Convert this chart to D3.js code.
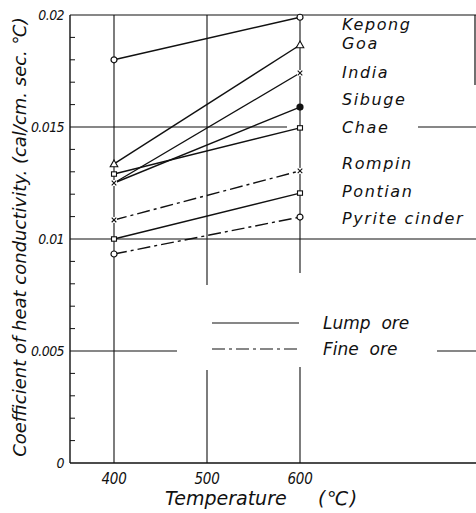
<!DOCTYPE html>
<html><head><meta charset="utf-8">
<script src="https://cdn.jsdelivr.net/npm/d3@7"></script>
<style>
body{margin:0;background:#fff;}
text{font-family:"DejaVu Sans",sans-serif;font-style:italic;fill:#111;}
text.cond{font-family:"DejaVu Sans Condensed","Liberation Sans Narrow","DejaVu Sans",sans-serif;}
</style></head><body>
<svg id="c" width="476" height="513"></svg>
<script>
// ---- data ----
const temps = [400, 600];
const seriesNames = ["Kepong","Goa","India","Sibuge","Chae","Rompin","Pontian","Pyrite cinder"];
const kepong = [0.0180, 0.0199];
const goa = [0.01335, 0.01866];
const india = [0.0125, 0.01741];
const sibuge = [0.0125, 0.01589];
const chae = [0.0129, 0.01496];
const rompin = [0.01085, 0.01304];
const pontian = [0.0100, 0.01205];
const pyrite = [0.00933, 0.01098];
const oreType = ["lump","lump","lump","lump","lump","fine","lump","fine"];
const markerTypes = [
  ["circle","circle"], ["triangle","triangle"], ["cross","cross"], ["cross","dot"],
  ["square","square"], ["cross","cross"], ["square","square"], ["circle","circle"]
];
const xTicks = [400, 500, 600];
const yTicks = [0, 0.005, 0.01, 0.015, 0.02];
const yTickLabels = ["0", "0.005", "0.01", "0.015", "0.02"];
const legendLabels = ["Lump ore", "Fine ore"];
const legendTypes = ["lump", "fine"];

const values = [kepong, goa, india, sibuge, chae, rompin, pontian, pyrite];

const svg = d3.select("#c");
const L = 70, R = 476, T = 15, B = 463;
const x = d3.scaleLinear().domain([400, 600]).range([114, 300]);
const y = d3.scaleLinear().domain([0, 0.02]).range([B, T]);
const dashFine = "13,4,3,4";
const ink = "#111";

// frame
svg.append("line").attr("x1", L).attr("x2", R).attr("y1", B).attr("y2", B).attr("stroke", ink).attr("stroke-width", 1.4);
svg.append("line").attr("x1", L).attr("x2", L).attr("y1", T).attr("y2", B).attr("stroke", ink).attr("stroke-width", 1.4);
svg.append("line").attr("x1", L).attr("x2", R).attr("y1", T).attr("y2", T).attr("stroke", ink).attr("stroke-width", 1.2);
svg.append("line").attr("x1", R - 1).attr("x2", R - 1).attr("y1", T).attr("y2", 85).attr("stroke", ink).attr("stroke-width", 1.2);

// horizontal grid lines (with gaps for labels / legend)
const hGrid = [
  {v: 0.015, segs: [[L, 287], [418, R]]},
  {v: 0.01, segs: [[L, R]]},
  {v: 0.005, segs: [[L, 177], [437, R]]}
];
hGrid.forEach(g => g.segs.forEach(s => {
  svg.append("line").attr("x1", s[0]).attr("x2", s[1]).attr("y1", y(g.v)).attr("y2", y(g.v))
    .attr("stroke", ink).attr("stroke-width", 1.1);
}));
// vertical grid lines
const vGrid = [
  {t: 400, segs: [[T, B]]},
  {t: 500, segs: [[T, 285], [370, B]]},
  {t: 600, segs: [[T, 273], [367, B]]}
];
vGrid.forEach(g => g.segs.forEach(s => {
  svg.append("line").attr("x1", x(g.t)).attr("x2", x(g.t)).attr("y1", s[0]).attr("y2", s[1])
    .attr("stroke", ink).attr("stroke-width", 1.1);
}));

// minor y ticks
d3.range(1, 20).forEach(i => {
  if (i % 5 === 0) return;
  svg.append("line").attr("x1", L).attr("x2", L + 5).attr("y1", y(i * 0.001)).attr("y2", y(i * 0.001))
    .attr("stroke", ink).attr("stroke-width", 1);
});

// y tick labels
yTicks.forEach((v, i) => {
  svg.append("text").attr("class", "cond").attr("x", L - 6).attr("y", y(v) + 5).attr("text-anchor", "end")
    .attr("font-size", 14).attr("letter-spacing", -0.6).text(yTickLabels[i]);
});
// x tick labels
xTicks.forEach(t => {
  svg.append("text").attr("class", "cond").attr("x", x(t)).attr("y", B + 21).attr("text-anchor", "middle")
    .attr("font-size", 15).attr("letter-spacing", -0.3).text(t);
});

// axis titles
svg.append("text").attr("transform", "translate(26,237) rotate(-90)").attr("text-anchor", "middle")
  .attr("font-size", 18).text("Coefficient of heat conductivity. (cal/cm. sec. ℃)");
svg.append("text").attr("x", 165).attr("y", 505).attr("font-size", 19).text("Temperature");
svg.append("text").attr("x", 318).attr("y", 505).attr("font-size", 19).attr("letter-spacing", 1.5).text("(℃)");

// series lines
const line = d3.line().x(d => x(d[0])).y(d => y(d[1]));
values.forEach((vals, i) => {
  const pts = temps.map((t, j) => [t, vals[j]]);
  svg.append("path").attr("d", line(pts)).attr("fill", "none").attr("stroke", ink)
    .attr("stroke-width", 1.4).attr("stroke-dasharray", oreType[i] === "fine" ? dashFine : null);
});

// markers
function marker(type, cx, cy) {
  const g = svg.append("g").attr("transform", `translate(${cx},${cy})`);
  if (type === "circle") g.append("circle").attr("r", 3).attr("fill", "#fff").attr("stroke", ink).attr("stroke-width", 1.2);
  if (type === "dot") g.append("circle").attr("r", 3.6).attr("fill", ink);
  if (type === "triangle") g.append("path").attr("d", "M0,-4L3.8,2.8L-3.8,2.8Z").attr("fill", "#fff").attr("stroke", ink).attr("stroke-width", 1.1);
  if (type === "square") g.append("rect").attr("x", -2.5).attr("y", -2.2).attr("width", 5).attr("height", 4.4).attr("fill", "#fff").attr("stroke", ink).attr("stroke-width", 1.1);
  if (type === "cross") {
    g.append("rect").attr("x", -3).attr("y", -3).attr("width", 6).attr("height", 6).attr("fill", "#fff");
    g.append("path").attr("d", "M-2.3,-2.3L2.3,2.3M-2.3,2.3L2.3,-2.3").attr("stroke", ink).attr("stroke-width", 1.1);
  }
}
values.forEach((vals, i) => {
  temps.forEach((t, j) => marker(markerTypes[i][j], x(t), y(vals[j])));
});

// series labels at right
const labelBase = [30, 49, 78, 105, 133, 169, 197, 224];
seriesNames.forEach((n, i) => {
  svg.append("text").attr("x", 342).attr("y", labelBase[i]).attr("font-size", 16)
    .attr("letter-spacing", 1.6).text(n);
});

// legend
legendLabels.forEach((n, i) => {
  const ly = 323 + i * 26;
  svg.append("line").attr("x1", 212).attr("x2", 299).attr("y1", ly).attr("y2", ly)
    .attr("stroke", ink).attr("stroke-width", 1.2)
    .attr("stroke-dasharray", legendTypes[i] === "fine" ? dashFine : null);
  svg.append("text").attr("x", 323).attr("y", ly + 6).attr("font-size", 17).attr("xml:space", "preserve")
    .text(n.replace(" ", "  "));
});
</script></body></html>
